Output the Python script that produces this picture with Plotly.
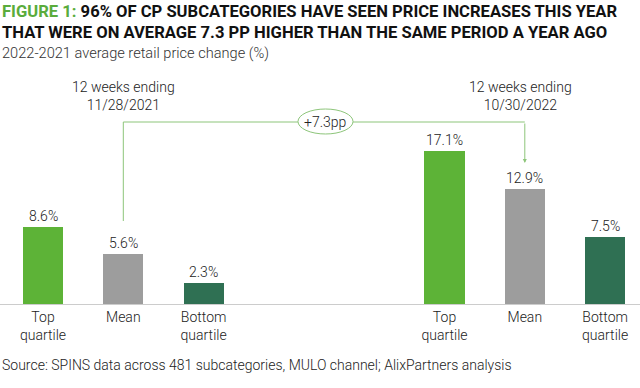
import plotly.graph_objects as go

# ---- data ----
categories = ["Top<br>quartile", "Mean", "Bottom<br>quartile"]
values_2021 = [8.6, 5.6, 2.3]
values_2022 = [17.1, 12.9, 7.5]
positions_2021 = [0, 1, 2]
positions_2022 = [5, 6, 7]
period_2021 = "12 weeks ending<br>11/28/2021"
period_2022 = "12 weeks ending<br>10/30/2022"
delta_label = "+7.3pp"
title_lead = "FIGURE 1:"
title_line1 = "96% OF CP SUBCATEGORIES HAVE SEEN PRICE INCREASES THIS YEAR"
title_line2 = "THAT WERE ON AVERAGE 7.3 PP HIGHER THAN THE SAME PERIOD A YEAR AGO"
subtitle = "2022-2021 average retail price change (%)"
source = "Source: SPINS data across 481 subcategories, MULO channel; AlixPartners analysis"

bar_colors = ["#5db337", "#9d9d9d", "#2f7053"]
line_green = "#8dc57a"
FONT = "Roboto"
TXT = "#222222"

W, H = 640, 388
PT, PB = 70, 84
plot_h = H - PT - PB
px_per_unit = 8.95
y_max = plot_h / px_per_unit
x0_px, slot_px = 43, 80.3
x_range = [(0 - x0_px) / slot_px, (W - x0_px) / slot_px]

def xd(px):
    return (px - x0_px) / slot_px

def yd(py):
    return (H - PB - py) / px_per_unit

def yp(py):
    return (H - PB - py) / plot_h

fig = go.Figure()
all_x = positions_2021 + positions_2022
all_v = values_2021 + values_2022
fig.add_trace(go.Bar(
    x=all_x, y=all_v, width=0.5,
    marker=dict(color=bar_colors * 2, line=dict(width=0)),
    hoverinfo="skip", showlegend=False,
))

annotations = []
for x, v in zip(all_x, all_v):
    annotations.append(dict(x=x, y=v, xref="x", yref="y", text=f"{v:.1f}%",
                            showarrow=False, yanchor="middle", yshift=11,
                            font=dict(family=FONT, size=14, color=TXT, weight=300)))

# period labels
annotations.append(dict(x=positions_2021[1], y=yd(96), xref="x", yref="y", text=period_2021,
                        showarrow=False, align="center", yanchor="middle",
                        font=dict(family=FONT, size=14, color=TXT, weight=300)))
annotations.append(dict(x=xd(520), y=yd(96), xref="x", yref="y", text=period_2022,
                        showarrow=False, align="center", yanchor="middle",
                        font=dict(family=FONT, size=14, color=TXT, weight=300)))

# connector
y_conn = yd(122)
e_x0, e_x1 = xd(298), xd(353)
e_y0, e_y1 = yd(134), yd(109)
shapes = [
    dict(type="line", xref="x", yref="y", x0=positions_2021[1], x1=positions_2021[1],
         y0=yd(221), y1=y_conn, line=dict(color=line_green, width=1)),
    dict(type="line", xref="x", yref="y", x0=positions_2021[1], x1=e_x0,
         y0=y_conn, y1=y_conn, line=dict(color=line_green, width=1)),
    dict(type="line", xref="x", yref="y", x0=e_x1, x1=positions_2022[1],
         y0=y_conn, y1=y_conn, line=dict(color=line_green, width=1)),
    dict(type="circle", xref="x", yref="y", x0=e_x0, x1=e_x1, y0=e_y0, y1=e_y1,
         line=dict(color=line_green, width=1), fillcolor="white"),
]
annotations.append(dict(x=positions_2022[1], y=yd(163), ax=positions_2022[1], ay=y_conn,
                        xref="x", yref="y", axref="x", ayref="y", text="",
                        showarrow=True, arrowhead=2, arrowsize=0.8, arrowwidth=1,
                        arrowcolor=line_green))
annotations.append(dict(x=(e_x0 + e_x1) / 2, y=(e_y0 + e_y1) / 2, xref="x", yref="y",
                        text=delta_label, showarrow=False,
                        font=dict(family=FONT, size=14, color=TXT, weight=300)))

# titles
annotations.append(dict(x=0, y=yp(11), xref="paper", yref="paper", xanchor="left",
                        yanchor="middle", showarrow=False,
                        text=f"<span style='color:#5aac3c'>{title_lead}</span> {title_line1}",
                        font=dict(family=FONT, size=16.6, color="#111111", weight=700)))
annotations.append(dict(x=0, y=yp(33), xref="paper", yref="paper",
                        xanchor="left", yanchor="middle", showarrow=False,
                        text=title_line2,
                        font=dict(family=FONT, size=16.6, color="#111111", weight=700)))
annotations.append(dict(x=0, y=yp(53), xref="paper", yref="paper",
                        xanchor="left", yanchor="middle", showarrow=False,
                        text=subtitle,
                        font=dict(family=FONT, size=14.6, color="#333333", weight=300)))
annotations.append(dict(x=0, y=yp(365), xref="paper", yref="paper",
                        xanchor="left", yanchor="middle", showarrow=False,
                        text=source,
                        font=dict(family=FONT, size=14, color=TXT, weight=300)))

fig.update_layout(
    width=W, height=H,
    margin=dict(l=0, r=0, t=PT, b=PB, pad=0),
    paper_bgcolor="white", plot_bgcolor="white",
    xaxis=dict(range=x_range, tickvals=all_x, ticktext=categories * 2,
               showgrid=False, zeroline=False, showline=True, linecolor="#cccccc",
               linewidth=1, ticks="", fixedrange=True,
               tickfont=dict(family=FONT, size=14, color=TXT, weight=300)),
    yaxis=dict(range=[0, y_max], visible=False, showgrid=False, zeroline=False,
               fixedrange=True),
    shapes=shapes, annotations=annotations,
    bargap=0,
)

fig.write_html("out.html", config={"displayModeBar": False},
               post_script="document.body.style.margin='0';document.body.style.overflow='hidden';")
